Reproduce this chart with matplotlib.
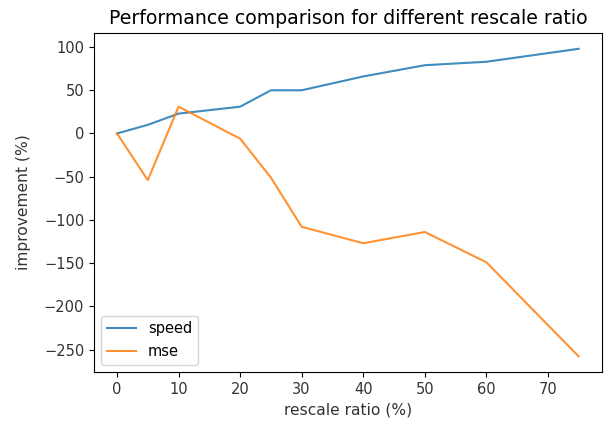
import numpy as np
import matplotlib
matplotlib.use("Agg")
import matplotlib.pyplot as plt

# rescale ratio (%)
ratio = [0, 5, 10, 20, 25, 30, 40, 50, 60, 75]
# improvement (%)
speed = [0, 10, 23, 31, 50, 50, 66, 79, 83, 98]
mse = [0, -54, 31, -6, -51, -108, -127, -114, -149, -258]

fig = plt.figure(figsize=(6.06, 4.23), dpi=100)
ax = fig.add_axes([0.155, 0.121, 0.838, 0.80])

ax.plot(ratio, speed, label='speed', alpha=0.85)
ax.plot(ratio, mse, label='mse', alpha=0.85)

ax.set_title('Performance comparison for different rescale ratio', fontsize=13.6, pad=7)
ax.set_xlabel('rescale ratio (%)', fontsize=11.2, color='#333333')
ax.set_ylabel('improvement (%)', fontsize=11.2, color='#333333', labelpad=9)
ax.tick_params(labelsize=10.5, labelcolor='#333333')
ax.legend(loc='lower left', fontsize=10.5)

fig.savefig('out.png', dpi=100)
